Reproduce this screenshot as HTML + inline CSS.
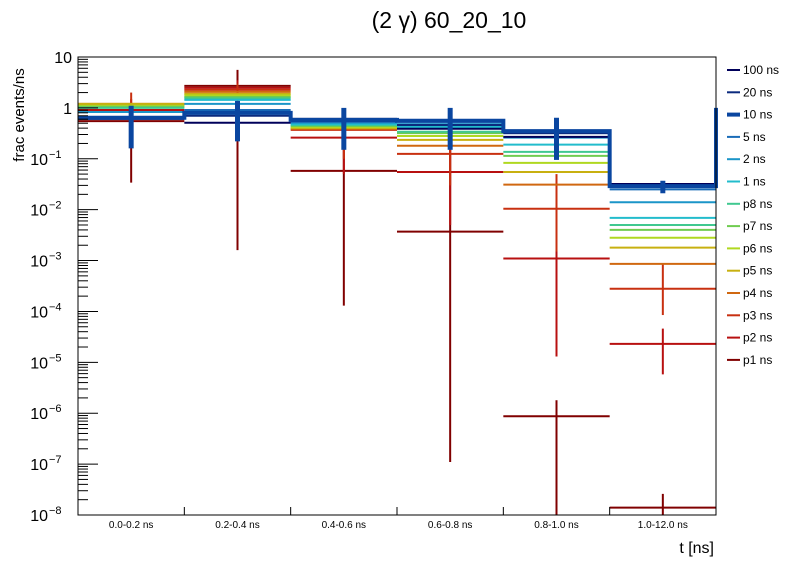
<!DOCTYPE html>
<html><head><meta charset="utf-8"><style>
body{margin:0;background:#fff;}
svg{display:block;font-family:"Liberation Sans",sans-serif;}
</style></head><body>
<svg id="chart" width="796" height="572">
<rect width="796" height="572" fill="#fff"/>
<text x="449" y="28" font-size="23" text-anchor="middle">(2 γ) 60_20_10</text>
<g id="plot"></g>
<g id="axes"></g>
<g id="legend"></g>
<text x="714" y="553" font-size="16" text-anchor="end">t [ns]</text>
<text transform="translate(24,115) rotate(-90)" font-size="15" text-anchor="middle">frac events/ns</text>
</svg>
<script>
const categories = ["0.0-0.2 ns","0.2-0.4 ns","0.4-0.6 ns","0.6-0.8 ns","0.8-1.0 ns","1.0-12.0 ns"];
const seriesNames = ["100 ns","20 ns","10 ns","5 ns","2 ns","1 ns","p8 ns","p7 ns","p6 ns","p5 ns","p4 ns","p3 ns","p2 ns","p1 ns"];
const s100 = [0.61,0.51,0.61,0.39,0.27,0.032];
const s20  = [0.64,0.70,0.56,0.46,0.32,0.032];
const s10  = [0.64,0.80,0.58,0.56,0.35,0.029];
const s5   = [0.66,0.91,0.53,0.53,0.32,0.025];
const s2   = [0.83,1.2,0.51,0.48,0.26,0.014];
const s1   = [0.83,1.44,0.48,0.42,0.19,0.0069];
const sp8  = [1.0,1.54,0.46,0.34,0.137,0.0050];
const sp7  = [1.05,1.64,0.44,0.32,0.114,0.0040];
const sp6  = [1.1,1.76,0.42,0.28,0.083,0.0028];
const sp5  = [1.2,1.88,0.40,0.235,0.055,0.0018];
const sp4  = [1.2,2.06,0.39,0.18,0.031,0.00086];
const sp3  = [1.15,2.26,0.37,0.125,0.0104,0.00028];
const sp2  = [0.91,2.47,0.26,0.055,0.0011,2.3e-5];
const sp1  = [0.55,2.7,0.058,0.0037,8.7e-7,1.4e-8];
const err10Lo = [0.16,0.22,0.15,0.15,0.095,0.021];
const err10Hi = [1.1,1.37,1.0,1.0,0.64,0.037];
const errP1Lo = [0.034,1.6e-3,1.3e-4,1.1e-7,1e-9,1e-9];
const errP1Hi = [1.0,5.6,0.15,0.15,1.8e-6,2.6e-8];
const errP2Lo = [0.3,0.5,0.05,0.005,1.3e-5,5.8e-6];
const errP2Hi = [1.5,3.5,0.5,0.15,0.04,4.6e-5];
const errP3Lo = [0.5,1.0,0.1,0.03,0.0015,8.5e-5];
const errP3Hi = [2.0,3.0,0.6,0.2,0.05,8.6e-4];
const yTicks = [10,1,0.1,1e-2,1e-3,1e-4,1e-5,1e-6,1e-7,1e-8];
const yTickLabels = ["10","1","10","10","10","10","10","10","10","10"];
const yTickExps = ["","","−1","−2","−3","−4","−5","−6","−7","−8"];

const allSeries=[s100,s20,s10,s5,s2,s1,sp8,sp7,sp6,sp5,sp4,sp3,sp2,sp1];
const colors=["#00005a","#0b2a7e","#0a46a0","#1a6cb8","#1b95c8","#22bccc","#40c890","#70cc50","#b0d820","#c8b010","#d06810","#c83010","#b81010","#800000"];
const X0=78,X1=716,Y0=57,Y1=515,LMAX=1,LMIN=-8;
const NS="http://www.w3.org/2000/svg";
function xScale(i){return X0+(X1-X0)*i/categories.length;}
function yScale(v){let l=Math.log10(Math.max(v,1e-12));l=Math.max(LMIN-0.5,Math.min(LMAX,l));return Y0+(LMAX-l)/(LMAX-LMIN)*(Y1-Y0);}
function yC(v){return Math.min(Y1,Math.max(Y0,yScale(v)));}
function mk(tag,attrs,parent){const e=document.createElementNS(NS,tag);for(const k in attrs)e.setAttribute(k,attrs[k]);parent.appendChild(e);return e;}
const plot=document.getElementById('plot'),axes=document.getElementById('axes'),legend=document.getElementById('legend');

const order=[13,12,11,10,9,8,7,6,5,4,3,1,0,2];
const errMap={2:[err10Lo,err10Hi],13:[errP1Lo,errP1Hi],12:[errP2Lo,errP2Hi],11:[errP3Lo,errP3Hi]};
order.forEach(si=>{
  const d=allSeries[si],c=colors[si];
  const g=mk('g',{},plot);
  
  
  if(si===2){
    let p='';
    d.forEach((v,i)=>{const y=yC(v);p+=(i===0?'M':'L')+xScale(i)+','+y+'L'+xScale(i+1)+','+y;});
    p+='L'+X1+','+yC(1);
    const path=mk('path',{d:p,fill:'none',stroke:c,'stroke-width':4},g);
    
    
  } else {
    d.forEach((v,i)=>{
      const y=yScale(v); if(y>Y1+1)return;
      const l=mk('line',{x1:xScale(i),x2:xScale(i+1),y1:y,y2:y,stroke:c,'stroke-width':2},g);
      
      
    });
  }
  if(errMap[si]){
    const [lo,hi]=errMap[si];
    d.forEach((v,i)=>{
      const xc=(xScale(i)+xScale(i+1))/2;
      const e=mk('line',{x1:xc,x2:xc,y1:yC(hi[i]),y2:yC(lo[i]),stroke:c,'stroke-width':si===2?5:2},g);
      
      
    });
  }
});

const fr=mk('rect',{x:X0,y:Y0,width:X1-X0,height:Y1-Y0,fill:'none',stroke:'#000','stroke-width':1},axes);


yTicks.forEach((t,k)=>{
  const y=yScale(t);
  mk('line',{x1:X0,x2:X0+20,y1:y,y2:y,stroke:'#000'},axes);
  const tx=mk('text',{x:X0-6,y:y+6,'font-size':16,'text-anchor':'end'},axes);
  
  
  if(yTickExps[k]){
    tx.setAttribute('x',X0-30);
    tx.textContent=yTickLabels[k];
    const sup=mk('text',{x:X0-29,y:y-1,'font-size':11,'text-anchor':'start'},axes);
    sup.textContent=yTickExps[k];
  } else tx.textContent=yTickLabels[k];
  if(t>1e-8){for(let m=2;m<10;m++){const ym=yScale(t/10*m);mk('line',{x1:X0,x2:X0+10,y1:ym,y2:ym,stroke:'#000'},axes);}}
});
categories.forEach((c,i)=>{
  const xc=(xScale(i)+xScale(i+1))/2;
  const t=mk('text',{x:xc,y:528,'font-size':10,'text-anchor':'middle'},axes);
  t.textContent=c;
  
  
  if(i>0)mk('line',{x1:xScale(i),x2:xScale(i),y1:Y1,y2:Y1-8,stroke:'#000'},axes);
});
seriesNames.forEach((n,i)=>{
  const y=70+i*22.3;
  const g=mk('g',{},legend);
  
  
  mk('line',{x1:727,x2:740,y1:y,y2:y,stroke:colors[i],'stroke-width':i===2?4:2},g);
  const t=mk('text',{x:743,y:y+4,'font-size':12},g);
  t.textContent=n;
});
</script>
</body></html>
